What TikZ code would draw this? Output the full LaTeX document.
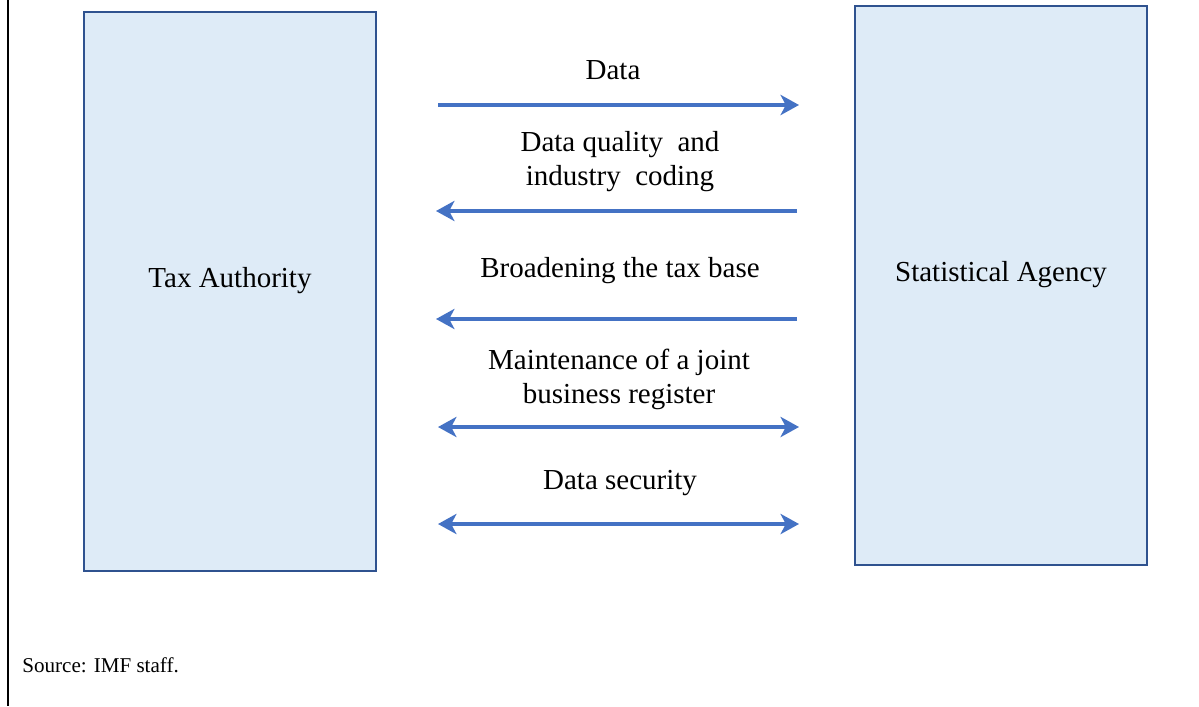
\documentclass[tikz,border=0pt]{standalone}
\usepackage{fontspec}
\setmainfont{Liberation Serif}
\usepackage{tikz}
\usetikzlibrary{arrows.meta}

\definecolor{boxfill}{RGB}{222,235,247}
\definecolor{boxedge}{RGB}{47,82,143}
\definecolor{flowblue}{RGB}{68,114,196}

\tikzset{
  agency/.style={draw=boxedge, fill=boxfill, line width=1.1pt, minimum width=5.84cm, minimum height=11.18cm, inner sep=0pt},
  agencylabel/.style={font=\fontsize{16.5}{20}\selectfont, inner sep=0pt},
  flowlabel/.style={align=center, font=\fontsize{16.5}{19.3}\selectfont, inner sep=0pt},
  flow/.style={draw=flowblue, line width=2.5pt, -{Stealth[length=10.5pt, width=11.5pt, inset=3pt]}},
  twoflow/.style={flow, {Stealth[length=10.5pt, width=11.5pt, inset=3pt]}-{Stealth[length=10.5pt, width=11.5pt, inset=3pt]}}
}

\begin{document}
\begin{tikzpicture}[x=0.02cm, y=-0.02cm]
        \useasboundingbox (0,0) rectangle (1199,706);
        \draw[line width=1.7pt] (8,0) -- (8,706);
        \node[agency] (tax) at (230,291.5) {};
        \node[agency] (stat) at (1001,285.5) {};
        \node[agencylabel] (taxname) at (230,281) {Tax Authority};
        \node[agencylabel] (statname) at (1001,275) {Statistical Agency};
        % flows between the two boxes
        \coordinate (f1l) at (438,105);  \coordinate (f1r) at (799,105);
        \coordinate (f2l) at (436,211);  \coordinate (f2r) at (797,211);
        \coordinate (f3l) at (436,319);  \coordinate (f3r) at (797,319);
        \coordinate (f4l) at (438,427);  \coordinate (f4r) at (799,427);
        \coordinate (f5l) at (438,524);  \coordinate (f5r) at (799,524);
        \draw[flow] (f1l) -- (f1r);
        \draw[flow] (f2r) -- (f2l);
        \draw[flow] (f3r) -- (f3l);
        \draw[twoflow] (f4l) -- (f4r);
        \draw[twoflow] (f5l) -- (f5r);
        \node[flowlabel] (data) at (613,70) {Data};
        \node[flowlabel] (quality) at (620,162) {Data quality\ \ and\\industry\ \ coding};
        \node[flowlabel] (base) at (620,271) {Broadening the tax base};
        \node[flowlabel] (register) at (619,379) {Maintenance of a joint\\business register};
        \node[flowlabel] (security) at (620,483) {Data security};
        \node[anchor=west, inner sep=0pt, font=\fontsize{12}{14}\selectfont] (source) at (22,665) {Source: IMF staff.};
\end{tikzpicture}
\end{document}
